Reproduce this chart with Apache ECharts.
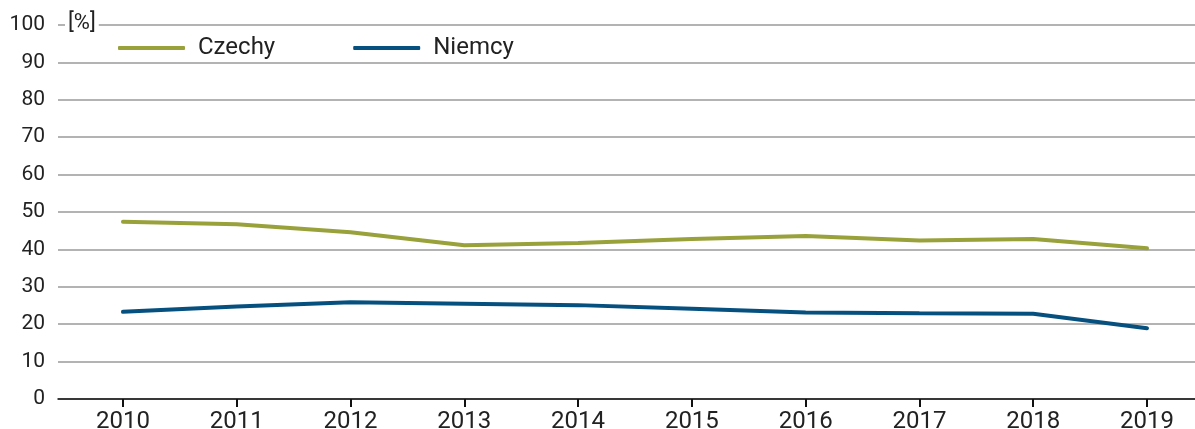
<!DOCTYPE html>
<html>
<head>
<meta charset="utf-8">
<script src="https://cdn.jsdelivr.net/npm/echarts@6/dist/echarts.min.js"></script>
<style>
  html, body { margin: 0; padding: 0; background: #fff; }
  #chart { width: 1195px; height: 429px; }
</style>
</head>
<body>
<div id="chart"></div>
<script>
// data
var years = [2010, 2011, 2012, 2013, 2014, 2015, 2016, 2017, 2018, 2019];
var czechy = [47.4, 46.7, 44.6, 41.1, 41.7, 42.8, 43.6, 42.4, 42.8, 40.3];
var niemcy = [23.3, 24.7, 25.9, 25.5, 25.1, 24.1, 23.1, 22.9, 22.8, 18.9];

var GREEN = '#99a13b';
var BLUE = '#06507f';
var FONT = 'Roboto';

function pairs(vals) {
    return years.map(function(y, i) { return [y, vals[i]]; });
}

var chart = echarts.init(document.getElementById('chart'), null, { renderer: 'canvas' });

chart.setOption({
    animation: false,
    textStyle: { fontFamily: FONT },
    grid: { left: 58, right: 0, top: 25, bottom: 30, containLabel: false, outerBoundsMode: 'none' },
    legend: {
        left: 113,
        top: 31,
        itemWidth: 67,
        itemHeight: 4,
        itemGap: 78,
        icon: 'roundRect',
        textStyle: { fontFamily: FONT, fontSize: 24, color: '#222', padding: [0, 0, 0, 8] },
        data: ['Czechy', 'Niemcy']
    },
    xAxis: {
        type: 'value',
        min: 2009.429,
        max: 2019.422,
        axisLine: { show: true, lineStyle: { color: '#111', width: 1.5 } },
        axisTick: { show: true, length: 8, customValues: years, lineStyle: { color: '#111', width: 2 } },
        axisLabel: {
            customValues: years,
            margin: 11,
            fontSize: 24,
            color: '#222',
            fontFamily: FONT,
            formatter: function(v) { return String(v); }
        },
        splitLine: { show: false }
    },
    yAxis: {
        type: 'value',
        min: 0,
        max: 100,
        interval: 10,
        axisLine: { show: false },
        axisTick: { show: false },
        axisLabel: { margin: 13, fontSize: 21, color: '#222', fontFamily: FONT },
        splitLine: { show: true, lineStyle: { color: '#9a9a9a', width: 1.5 } }
    },
    graphic: [{
        type: 'text',
        left: 65,
        top: 12,
        z: 100,
        style: {
            text: '[%]',
            fontFamily: FONT,
            fontSize: 22,
            fill: '#222',
            backgroundColor: '#fff',
            padding: [0, 3, 0, 3]
        }
    }],
    series: [{
        name: 'Czechy',
        type: 'line',
        data: pairs(czechy),
        showSymbol: false,
        color: GREEN,
        lineStyle: { color: GREEN, width: 4, cap: 'round' }
    }, {
        name: 'Niemcy',
        type: 'line',
        data: pairs(niemcy),
        showSymbol: false,
        color: BLUE,
        lineStyle: { color: BLUE, width: 4, cap: 'round' }
    }]
});
</script>
</body>
</html>
